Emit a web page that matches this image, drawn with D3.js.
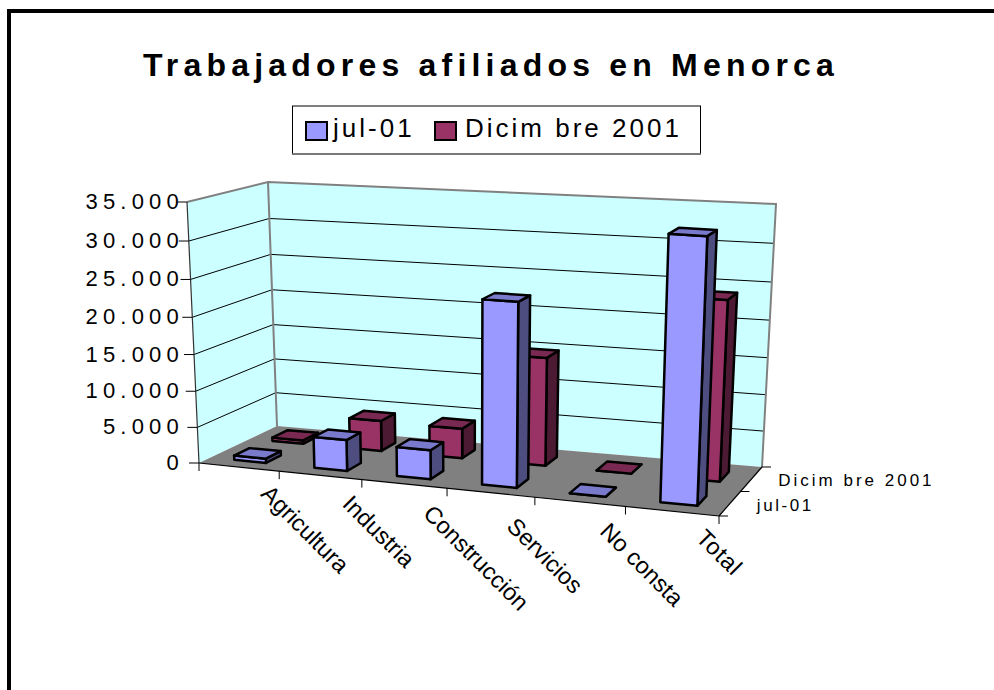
<!DOCTYPE html>
<html><head><meta charset="utf-8">
<script src="https://cdn.jsdelivr.net/npm/d3@7"></script>
<style>html,body{margin:0;padding:0;background:#fff}svg{display:block}text{font-family:"Liberation Sans",Arial,sans-serif;fill:#000}</style>
</head><body><svg id="c" width="994" height="690"></svg>
<script>
const categories = ["Agricultura","Industria","Construcción","Servicios","No consta","Total"];
const seriesNames = ["jul-01","Dicimbre 2001"];
const seriesLegend = ["jul-01","Dicim bre 2001"];
const jul01 = [600,4300,4000,24500,0,34100];
const dic2001 = [500,4300,4200,14900,0,24100];
const valueTicks = [0,5000,10000,15000,20000,25000,30000,35000];
const tickLabels = ["0","5.000","10.000","15.000","20.000","25.000","30.000","35.000"];
const seriesValues = [jul01, dic2001];
const frontColors = ["#9999FF","#993366"];

const svg = d3.select("#c");
// box corners on the screen, then blended for any (u,d,h) in 0..1
const box = {f0:[199,463],f1:[719,516],b1:[762,467],b0:[277,426],ft0:[187,202],bt0:[268,182],bt1:[776,204],ft1:[730,235]};
const uWarp = 0.912, hWarp = 0.948;
const warp = (t,r)=>r*t/(1-t+r*t);
function P(u0,d,z0){
  const u=warp(u0,uWarp), z=warp(z0,hWarp);
  return [0,1].map(i=>{
    const low=(1-d)*((1-u)*box.f0[i]+u*box.f1[i])+d*((1-u)*box.b0[i]+u*box.b1[i]);
    const high=(1-d)*((1-u)*box.ft0[i]+u*box.ft1[i])+d*((1-u)*box.bt0[i]+u*box.bt1[i]);
    return (1-z)*low+z*high;
  });
}
const uScale = d3.scaleBand().domain(categories).range([0,1]).paddingInner(0.6).paddingOuter(0.3);
const uOuter = d3.scaleBand().domain(categories).range([0,1]);
const dScale = d3.scaleBand().domain(seriesNames).range([0,1]).paddingInner(0.6).paddingOuter(0.3);
const dOuter = d3.scaleBand().domain(seriesNames).range([0,1]);
const hScale = d3.scaleLinear().domain([0,35000]).range([0,1]);
const line = pts => "M"+pts.map(p=>p.map(v=>v.toFixed(2)).join(",")).join("L")+"Z";
const seg = (a,b,st,w)=>svg.append("line").attr("x1",a[0]).attr("y1",a[1]).attr("x2",b[0]).attr("y2",b[1]).attr("stroke",st).attr("stroke-width",w);

// page frame
svg.append("path").attr("d","M9,690V11H994").attr("fill","none").attr("stroke","#000").attr("stroke-width",4);

// title
svg.append("text").attr("x",491).attr("y",76).attr("text-anchor","middle").attr("font-size",32).attr("font-weight","bold").attr("letter-spacing",5.2).text("Trabajadores afiliados en Menorca");

// legend
svg.append("rect").attr("x",292.5).attr("y",106).attr("width",408).attr("height",48).attr("fill","#fff").attr("stroke","#000").attr("stroke-width",1);
svg.append("line").attr("x1",292).attr("x2",701).attr("y1",154).attr("y2",154).attr("stroke","#777").attr("stroke-width",1.5);
const legX=[306,435], legT=[333,465], legS=[3,3];
seriesLegend.forEach((s,i)=>{
  svg.append("rect").attr("x",legX[i]).attr("y",122).attr("width",21).attr("height",18).attr("fill",frontColors[i]).attr("stroke","#000").attr("stroke-width",2);
  svg.append("text").attr("x",legT[i]).attr("y",137).attr("font-size",26).attr("letter-spacing",legS[i]).text(s);
});

// walls and floor
svg.append("path").attr("d",line([P(0,0,0),P(0,1,0),P(0,1,1),P(0,0,1)])).attr("fill","#CCFFFF");
svg.append("path").attr("d",line([P(0,1,0),P(1,1,0),P(1,1,1),P(0,1,1)])).attr("fill","#CCFFFF");
svg.append("path").attr("d",line([P(0,0,0),P(1,0,0),P(1,1,0),P(0,1,0)])).attr("fill","#808080");

// gridlines
valueTicks.slice(1,-1).forEach(t=>{
  const h=hScale(t);
  svg.append("path").attr("d","M"+[P(0,0,h),P(0,1,h),P(1,1,h)].map(p=>p.join(",")).join("L")).attr("fill","none").attr("stroke","#000").attr("stroke-width",1);
});
// wall outline
svg.append("path").attr("d","M"+[P(0,0,1),P(0,1,1),P(1,1,1),P(1,1,0)].map(p=>p.join(",")).join("L")).attr("fill","none").attr("stroke","#808080").attr("stroke-width",2);
seg(P(0,1,0),P(0,1,1),"#808080",2);

// value axis
seg(P(0,0,0),P(0,0,1),"#333",1.2);
valueTicks.forEach((t,i)=>{
  const p=P(0,0,hScale(t));
  seg([p[0]-10,p[1]],p,"#000",1);
  svg.append("text").attr("x",184).attr("y",p[1]+7).attr("text-anchor","end").attr("font-size",22).attr("letter-spacing",5.2).text(tickLabels[i]);
});
// category axis
seg(P(0,0,0),P(1,0,0),"#000",1.2);
categories.concat([null]).forEach((c,i)=>{
  const u = c===null?1:uOuter(c);
  const p=P(u,0,0);
  seg(p,[p[0],p[1]+8],"#000",1);
});
const labelNudge=[[-1,0],[-1,2],[-4,3],[-7,7],[-3,3],[1,0]];
categories.forEach((c,i)=>{
  const p=P(uOuter(c)+uOuter.bandwidth()/2,0,0);
  svg.append("text").attr("transform",`translate(${p[0]+22+labelNudge[i][0]},${p[1]+28+labelNudge[i][1]}) rotate(45)`).attr("font-size",23.5).attr("letter-spacing",i===5?0.8:0).text(c);
});
// depth axis
seg(P(1,0,0),P(1,1,0),"#000",1.2);
[0,0.5,1].forEach(d=>{const p=P(1,d,0);seg(p,[p[0]+9,p[1]],"#000",1);});
seriesLegend.forEach((s,i)=>{
  const p=P(1,dOuter(seriesNames[i])+dOuter.bandwidth()/2,0);
  svg.append("text").attr("x",p[0]+27).attr("y",p[1]+7).attr("font-size",17).attr("letter-spacing",i===0?2.6:3).text(s);
});

// bars, back series first
const shade=(col,k)=>{const c=d3.rgb(col);return d3.rgb(c.r*k,c.g*k,c.b*k).formatHex();};
[1,0].forEach(si=>{
  const dn=seriesNames[si];
  categories.forEach((c,ci)=>{
    const v=seriesValues[si][ci];
    const u0=uScale(c),u1=u0+uScale.bandwidth(),d0=dScale(dn),d1=d0+dScale.bandwidth(),h=hScale(v);
    const g=svg.append("g").attr("stroke","#000").attr("stroke-width",2.5).attr("stroke-linejoin","round");
    const col=frontColors[si];
    g.append("path").attr("d",line([P(u1,d0,0),P(u1,d1,0),P(u1,d1,h),P(u1,d0,h)])).attr("fill",shade(col,0.5));
    g.append("path").attr("d",line([P(u0,d0,0),P(u1,d0,0),P(u1,d0,h),P(u0,d0,h)])).attr("fill",col);
    g.append("path").attr("d",line([P(u0,d0,h),P(u1,d0,h),P(u1,d1,h),P(u0,d1,h)])).attr("fill",shade(col,0.8));
  });
});
</script></body></html>
